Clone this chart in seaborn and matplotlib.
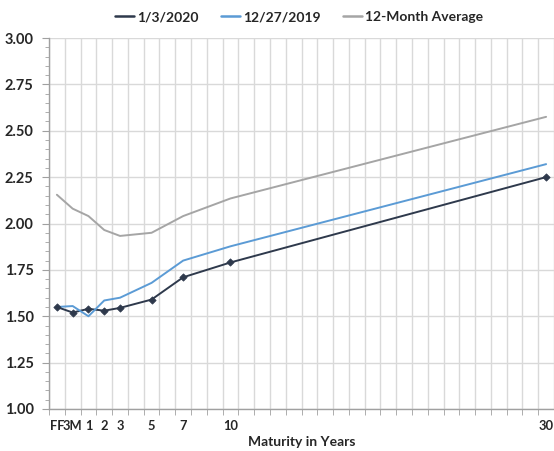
import numpy as np
import pandas as pd
import matplotlib
matplotlib.use("Agg")
import matplotlib.pyplot as plt
from matplotlib.ticker import MultipleLocator, FixedLocator
import seaborn as sns

# maturities: FF placed at -1, 3M at 0, then years
maturity_labels = ["FF", "3M", "1", "2", "3", "5", "7", "10", "30"]
maturity_pos = [-1, 0, 1, 2, 3, 5, 7, 10, 30]

jan_3_2020 = [1.55, 1.52, 1.54, 1.53, 1.545, 1.59, 1.71, 1.79, 2.25]
dec_27_2019 = [1.55, 1.555, 1.50, 1.585, 1.60, 1.68, 1.80, 1.877, 2.32]
avg_12m = [2.155, 2.08, 2.04, 1.965, 1.933, 1.95, 2.04, 2.135, 2.575]

series_names = ["1/3/2020", "12/27/2019", "12-Month Average"]
colors = ["#2E394C", "#5B9BD5", "#A5A5A5"]

df = pd.DataFrame({
    "pos": maturity_pos * 3,
    "rate": jan_3_2020 + dec_27_2019 + avg_12m,
    "series": np.repeat(series_names, len(maturity_pos)),
})

sns.set_style("white")
plt.rcParams['font.family'] = ['Lato', 'DejaVu Sans']
plt.rcParams['font.weight'] = 'bold'

fig = plt.figure(figsize=(5.54, 4.51), dpi=100)
ax = fig.add_axes([49 / 554, 1 - 409 / 451, 505 / 554, (409 - 38) / 451])

sns.lineplot(data=df, x="pos", y="rate", hue="series", hue_order=series_names,
             palette=colors, linewidth=1.4, ax=ax, legend=False)
# markers only on the latest curve
sub = df[df["series"] == series_names[0]]
sns.scatterplot(data=sub, x="pos", y="rate", color=colors[0], marker="D", s=14,
                edgecolor=colors[0], linewidth=0.5, ax=ax, legend=False, zorder=5)

ax.set_xlim(-1.5, 30.5)
ax.set_ylim(1.0, 3.0)

ax.xaxis.set_major_locator(FixedLocator(maturity_pos))
ax.set_xticklabels(maturity_labels)
ax.xaxis.set_minor_locator(FixedLocator(np.arange(-1.5, 31, 1.0)))
ax.yaxis.set_major_locator(MultipleLocator(0.25))
ax.yaxis.set_minor_locator(MultipleLocator(0.05))
ax.yaxis.set_major_formatter(matplotlib.ticker.FormatStrFormatter("%.2f"))

ax.tick_params(axis="x", which="major", length=0, pad=8, labelsize=9.3)
ax.tick_params(axis="x", which="minor", length=4, color="#A0A0A0", direction="out", bottom=True)
ax.tick_params(axis="y", which="major", length=5, color="#A0A0A0", labelsize=10.5, pad=6, left=True)
ax.tick_params(axis="y", which="minor", length=3, color="#A0A0A0", left=True)

ax.grid(True, which="major", axis="y", color="#D9D9D9", linewidth=1)
ax.grid(True, which="minor", axis="x", color="#D9D9D9", linewidth=1)
ax.grid(False, which="major", axis="x")
ax.set_axisbelow(True)

for side in ["top", "right"]:
    ax.spines[side].set_visible(False)
for side in ["left", "bottom"]:
    ax.spines[side].set_color("#A0A0A0")
    ax.spines[side].set_linewidth(1)

ax.set_xlabel("Maturity in Years", fontsize=10, fontweight="bold", labelpad=3)
ax.set_ylabel("")

handles = [plt.Line2D([], [], color=c, linewidth=1.8) for c in colors]
fig.legend(handles, series_names, loc="center", bbox_to_anchor=(0.54, 0.962), ncol=3,
           frameon=False, handlelength=1.4, handletextpad=0.2, columnspacing=1.6,
           prop={"weight": "bold", "size": 10})

fig.savefig("out.png", dpi=100)
